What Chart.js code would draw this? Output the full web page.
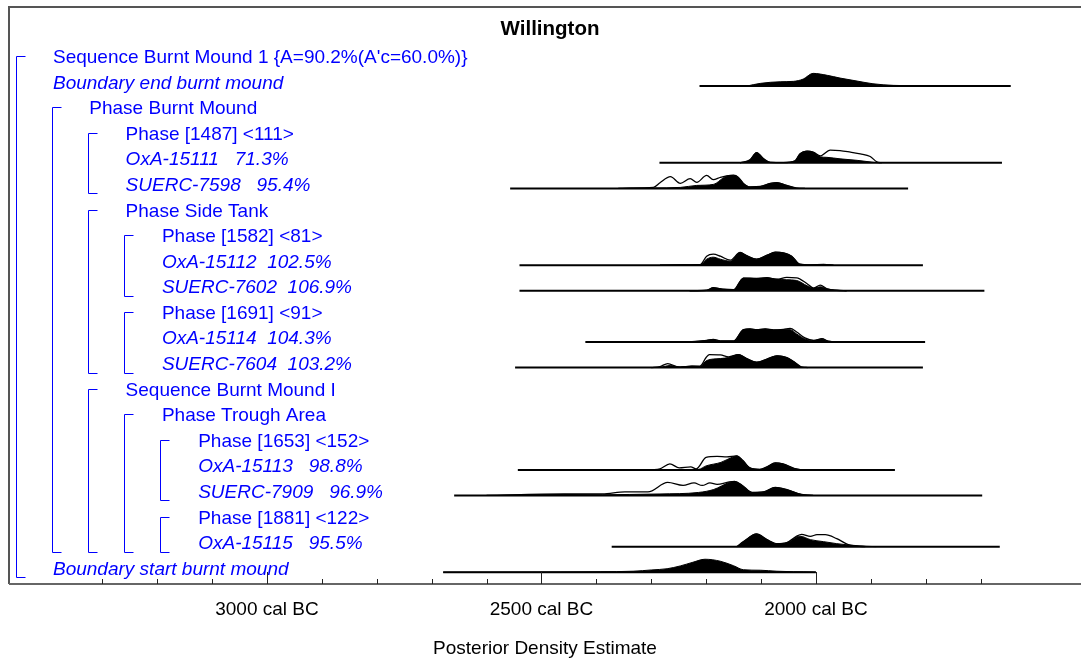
<!DOCTYPE html>
<html><head><meta charset="utf-8">
<script src="https://cdn.jsdelivr.net/npm/chart.js@4.4.1/dist/chart.umd.min.js"></script>
<style>html,body{margin:0;padding:0;background:#fff;}#wrap{width:1081px;height:661px;}</style>
</head><body><div id="wrap"><canvas id="c" width="1081" height="661"></canvas></div>
<script>
// ---------- text ----------
const chartTitle = 'Willington';
const axisTitle = 'Posterior Density Estimate';
const rowLabels = [
  "Sequence Burnt Mound 1 {A=90.2%(A'c=60.0%)}",
  'Boundary end burnt mound',
  'Phase Burnt Mound',
  'Phase [1487] <111>',
  'OxA-15111   71.3%',
  'SUERC-7598   95.4%',
  'Phase Side Tank',
  'Phase [1582] <81>',
  'OxA-15112  102.5%',
  'SUERC-7602  106.9%',
  'Phase [1691] <91>',
  'OxA-15114  104.3%',
  'SUERC-7604  103.2%',
  'Sequence Burnt Mound I',
  'Phase Trough Area',
  'Phase [1653] <152>',
  'OxA-15113   98.8%',
  'SUERC-7909   96.9%',
  'Phase [1881] <122>',
  'OxA-15115   95.5%',
  'Boundary start burnt mound'
];
const rowLevels = [0,0,1,2,2,2,2,3,3,3,3,3,3,2,3,4,4,4,4,4,0];
const rowItalic = [0,1,0,0,1,1,0,0,1,1,0,1,1,0,0,0,1,1,0,1,1];
// brackets: [level, first row, last row]
const brackets = [[0,0,20],[1,2,19],[2,3,5],[2,6,12],[2,13,19],[3,7,9],[3,10,12],[3,14,19],[4,15,17],[4,18,19]];

// ---------- x axis (years cal BC) ----------
const axisYears = [3470, 1517];
const majorStep = 500;
const minorStep = 100;

// ---------- distributions: [year cal BC, density] ----------
const endBoundaryRange = [2212, 1645];
const endBoundaryPost = [[2126,0],[2101,2.7],[2065,4.3],[2041,4.7],[2023,7],[2005,12.7],[1979,10.7],[1956,8],[1925,5],[1896,2.3],[1859,0.7],[1797,0.2],[1740,0]];

const oxa15111Range = [2285, 1661];
const oxa15111Post = [[2138,0],[2120,3],[2108,10.3],[2095,4],[2083,0.5],[2059,0.3],[2038,2],[2029,9],[2016,11.7],[2004,10.5],[1992,6],[1980,5.5],[1956,4],[1925,2.5],[1895,0.5],[1883,0]];
const oxa15111Lik = [[2138,0],[2120,3],[2108,10.3],[2095,4],[2083,0.5],[2059,0.3],[2038,2],[2029,9],[2016,11.7],[2004,10.5],[1992,7],[1974,12.7],[1956,12.3],[1937,10.7],[1919,9],[1901,6.3],[1889,1],[1880,0]];

const suerc7598Range = [2557, 1832];
const suerc7598Post = [[2360,0],[2338,0.3],[2296,0.5],[2247,1],[2217,3],[2187,4],[2162,12.5],[2150,13],[2141,11],[2132,5],[2120,1.5],[2101,2],[2083,5],[2071,5.7],[2053,3],[2035,0.3],[2020,0]];
const suerc7598Lik = [[2360,0],[2338,0.3],[2296,1],[2284,5.7],[2265,11.7],[2247,5],[2229,9.7],[2217,6],[2199,13],[2187,8.7],[2174,11],[2156,13],[2150,13.2],[2141,11],[2132,5],[2120,1.5],[2101,2],[2083,5],[2071,5.7],[2053,3],[2035,0.3],[2020,0]];

const oxa15112Range = [2540, 1805];
const oxa15112Post = [[2284,0],[2247,0.3],[2211,0.5],[2199,6],[2187,8],[2174,6],[2156,4],[2138,12.7],[2126,9.5],[2108,6],[2089,10],[2074,13],[2059,12.3],[2044,9],[2029,1],[2010,0.3],[1986,0.7],[1968,0]];
const oxa15112Lik = [[2284,0],[2247,0.3],[2211,0.5],[2199,9],[2187,11],[2174,9],[2156,5],[2138,12.7],[2126,9.5],[2108,6],[2089,10],[2074,13],[2059,12.3],[2044,9],[2029,1],[2010,0.3],[1986,0.7],[1968,0]];

const suerc7602Range = [2540, 1693];
const suerc7602Post = [[2230,0],[2199,0.5],[2187,3],[2168,1.5],[2150,1],[2132,12.7],[2108,12.3],[2089,13],[2071,11.5],[2053,11],[2035,10.3],[2016,5],[2004,2.7],[1992,4],[1980,2],[1962,0.5],[1944,0]];
const suerc7602Lik = [[2230,0],[2199,0.5],[2187,3],[2168,1.5],[2150,1],[2132,12.7],[2108,12.3],[2089,13],[2071,11.5],[2053,13.3],[2035,13],[2016,7],[2004,2.7],[1992,5.7],[1980,2],[1962,0.5],[1944,0]];

const oxa15114Range = [2420, 1801];
const oxa15114Post = [[2230,0],[2199,1.5],[2187,2.5],[2174,1],[2150,1],[2132,12.3],[2120,13],[2108,12.3],[2092,13],[2077,12],[2059,12.3],[2047,12.3],[2035,8],[2020,3],[2004,1.5],[1989,3],[1977,0.7],[1956,0]];
const oxa15114Lik = [[2230,0],[2199,1.5],[2187,2.5],[2174,1],[2150,1],[2132,12.3],[2120,13],[2108,12.3],[2092,13],[2077,12],[2059,12.6],[2047,13.5],[2035,10],[2020,4],[2004,1.5],[1989,3.3],[1977,0.7],[1956,0]];

const suerc7604Range = [2548, 1805];
const suerc7604Post = [[2300,0],[2284,0.3],[2265,2],[2247,0.5],[2226,1.5],[2211,1],[2199,7],[2174,9],[2159,10],[2141,13],[2126,9],[2108,5.3],[2089,8.5],[2071,11.7],[2053,10],[2038,5],[2026,0.5],[2015,0]];
const suerc7604Lik = [[2300,0],[2284,1],[2270,4],[2250,0.5],[2226,1.5],[2211,1.5],[2200,10],[2194,13],[2174,12.7],[2159,10.7],[2141,13],[2126,9],[2108,5.3],[2089,8.5],[2071,11.7],[2053,10],[2038,5],[2026,0.5],[2015,0]];

const oxa15113Range = [2543, 1856];
const oxa15113Post = [[2300,0],[2284,0.3],[2214,0.5],[2200,4],[2173,7.5],[2151,13],[2144,14],[2134,10],[2120,2],[2102,0.5],[2089,3],[2074,7],[2060,6],[2040,1.5],[2026,0]];
const oxa15113Lik = [[2300,0],[2284,1],[2266,6],[2249,2],[2228,3],[2218,1],[2200,12.5],[2180,13.5],[2162,13],[2144,14],[2134,10],[2120,2],[2102,0.5],[2089,3],[2074,7],[2060,6],[2040,1.5],[2026,0]];

const suerc7909Range = [2659, 1697];
const suerc7909Post = [[2600,0],[2459,1],[2389,0.7],[2340,1],[2284,1.5],[2214,3],[2186,6],[2158,13],[2148,14],[2134,10],[2116,3],[2096,3.5],[2074,8],[2054,6],[2026,1],[2005,0]];
const suerc7909Lik = [[2600,0],[2459,1.5],[2389,1.5],[2348,3.5],[2306,3.5],[2270,13],[2242,10],[2222,12.5],[2207,10],[2193,12.5],[2180,11],[2158,13.5],[2148,14],[2134,10],[2116,3],[2096,3.5],[2074,8],[2054,6],[2026,1],[2005,0]];

const oxa15115Range = [2372, 1665];
const oxa15115Post = [[2144,0],[2132,5],[2108,12.7],[2089,7],[2071,3],[2053,4],[2029,10.5],[2010,7],[1986,5],[1962,3],[1937,1.5],[1907,0.3],[1890,0]];
const oxa15115Lik = [[2144,0],[2132,5],[2108,12.7],[2089,7],[2071,3],[2053,4],[2035,10.5],[2026,12.3],[2010,10.3],[1998,12],[1983,12],[1962,8],[1941,2],[1925,0.5],[1910,0]];

const startBoundaryRange = [2679, 2000];
const startBoundaryPost = [[2679,0],[2466,0.3],[2393,0.5],[2333,1],[2299,2.3],[2271,3.5],[2247,6.3],[2224,10],[2202,13],[2174,11],[2150,6.5],[2132,2.5],[2101,2],[2071,1],[2041,0.5],[2005,0.2],[2000,0]];

// row index -> [range, posterior, likelihood]
const distributionRows = [
  [1, endBoundaryRange, endBoundaryPost, null],
  [4, oxa15111Range, oxa15111Post, oxa15111Lik],
  [5, suerc7598Range, suerc7598Post, suerc7598Lik],
  [8, oxa15112Range, oxa15112Post, oxa15112Lik],
  [9, suerc7602Range, suerc7602Post, suerc7602Lik],
  [11, oxa15114Range, oxa15114Post, oxa15114Lik],
  [12, suerc7604Range, suerc7604Post, suerc7604Lik],
  [16, oxa15113Range, oxa15113Post, oxa15113Lik],
  [17, suerc7909Range, suerc7909Post, suerc7909Lik],
  [19, oxa15115Range, oxa15115Post, oxa15115Lik],
  [20, startBoundaryRange, startBoundaryPost, null]
];

// ---------- styling ----------
const BLUE = '#0000ff';
const FONT = '"Liberation Sans", Arial, sans-serif';
const densityScale = 1 / 25.6;   // density unit -> row units
const rowsTop = 2.09, rowsBottom = -20.46;

const datasets = [];
distributionRows.forEach(([row, range, post, lik]) => {
  const base = -row;
  datasets.push({
    data: range.map(v => ({x: v, y: base})),
    showLine: true, borderColor: '#000', borderWidth: 2, pointRadius: 0, fill: false, order: 3
  });
  datasets.push({
    data: post.map(([yr, d]) => ({x: yr, y: base + d * densityScale})),
    showLine: true, borderColor: '#000', borderWidth: 1, backgroundColor: '#000',
    pointRadius: 0, fill: {value: base}, tension: 0.35, cubicInterpolationMode: 'monotone', order: 2
  });
  if (lik) {
    datasets.push({
      data: lik.map(([yr, d]) => ({x: yr, y: base + d * densityScale})),
      showLine: true, borderColor: '#000', borderWidth: 1.3, pointRadius: 0, fill: false,
      tension: 0.35, cubicInterpolationMode: 'monotone', order: 1
    });
  }
});

const decor = {
  id: 'decor',
  afterDraw(chart) {
    const {ctx, chartArea: a, scales: {x, y}} = chart;
    ctx.save();
    // frame
    ctx.strokeStyle = '#555'; ctx.lineWidth = 2;
    ctx.beginPath();
    ctx.moveTo(a.left, a.bottom); ctx.lineTo(a.left, a.top); ctx.lineTo(a.right, a.top);
    ctx.stroke();
    ctx.strokeStyle = '#666'; ctx.lineWidth = 2;
    ctx.beginPath(); ctx.moveTo(a.left, a.bottom); ctx.lineTo(a.right, a.bottom); ctx.stroke();
    // inward tick marks
    ctx.strokeStyle = '#222'; ctx.lineWidth = 1;
    x.ticks.forEach(t => {
      const px = Math.round(x.getPixelForValue(t.value)) + 0.5;
      const len = t.value % majorStep === 0 ? 12 : 5;
      ctx.beginPath(); ctx.moveTo(px, a.bottom); ctx.lineTo(px, a.bottom - len); ctx.stroke();
    });
    // title
    ctx.fillStyle = '#000';
    ctx.font = 'bold 20.5px ' + FONT;
    ctx.textAlign = 'center'; ctx.textBaseline = 'alphabetic';
    ctx.fillText(chartTitle, 550, 35);
    // labels
    ctx.fillStyle = BLUE; ctx.textAlign = 'left';
    rowLabels.forEach((txt, i) => {
      ctx.font = (rowItalic[i] ? 'italic ' : '') + '19px ' + FONT;
      ctx.fillText(txt, 53 + 36.3 * rowLevels[i], y.getPixelForValue(-i) + 2.5);
    });
    // brackets
    ctx.strokeStyle = BLUE; ctx.lineWidth = 1;
    brackets.forEach(([lvl, r0, r1]) => {
      const bx = Math.round(16 + 36 * lvl) + 0.5;
      const y0 = Math.round(y.getPixelForValue(-r0) - 4.5) + 0.5;
      const y1 = Math.round(y.getPixelForValue(-r1) + 5) + 0.5;
      ctx.beginPath();
      ctx.moveTo(bx + 9, y0); ctx.lineTo(bx, y0); ctx.lineTo(bx, y1); ctx.lineTo(bx + 9, y1);
      ctx.stroke();
    });
    ctx.restore();
  }
};

new Chart(document.getElementById('c'), {
  type: 'scatter',
  data: {datasets},
  options: {
    responsive: false, animation: false, devicePixelRatio: 1,
    layout: {padding: {left: 9, top: 7, right: 0, bottom: 0}},
    plugins: {legend: {display: false}, tooltip: {enabled: false}, title: {display: false}},
    scales: {
      x: {
        type: 'linear', reverse: true, min: axisYears[1], max: axisYears[0],
        afterBuildTicks: s => { s.ticks = s.ticks.filter(t => t.value % minorStep === 0); },
        afterFit: s => { s.height = 77; },
        grid: {display: false}, border: {display: false},
        ticks: {
          stepSize: minorStep, autoSkip: false, maxRotation: 0, padding: 6,
          color: '#000', font: {family: FONT, size: 19},
          callback: v => (v % majorStep === 0 ? v + ' cal BC' : '')
        },
        title: {display: true, text: axisTitle, color: '#000', font: {family: FONT, size: 19}, padding: {top: 0, bottom: 1}}
      },
      y: {type: 'linear', min: rowsBottom, max: rowsTop, display: false}
    }
  },
  plugins: [decor]
});
</script></body></html>
